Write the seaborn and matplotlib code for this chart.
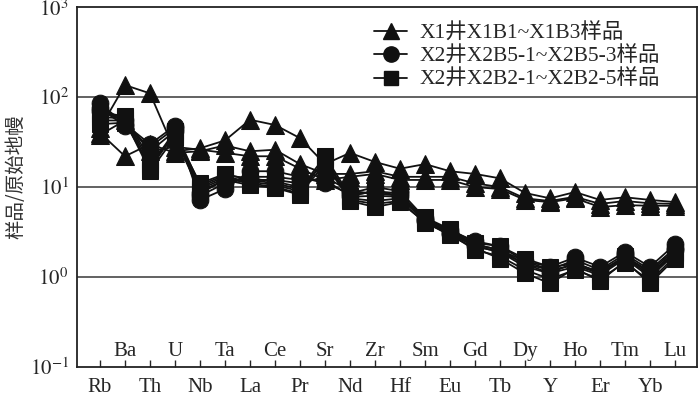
import numpy as np
import pandas as pd
import matplotlib
matplotlib.use("Agg")
import matplotlib.pyplot as plt
from matplotlib.lines import Line2D
import seaborn as sns

elements = ["Rb", "Ba", "Th", "U", "Nb", "Ta", "La", "Ce", "Pr", "Sr", "Nd", "Zr",
            "Hf", "Sm", "Eu", "Gd", "Tb", "Dy", "Y", "Ho", "Er", "Tm", "Yb", "Lu"]

# X1 well, X1B1~X1B3 (triangles)
x1b1 = [45, 136, 110, 25, 27, 33, 56, 49, 35, 18, 24, 19, 16, 18, 15, 14, 12.5, 8.6, 7.5, 8.8, 7.2, 7.7, 7.2, 6.8]
x1b2 = [40, 22, 30, 24, 25, 29, 25, 26, 18, 14, 14, 15, 13, 13, 13, 11, 10, 7.5, 7.0, 7.8, 6.5, 7.0, 6.6, 6.5]
x1b3 = [38, 55, 25, 28, 26, 24, 22, 22, 16, 12, 13, 14, 12, 12, 12, 10, 9.5, 7.2, 6.8, 7.5, 6.0, 6.3, 6.2, 6.2]

# X2 well, X2B5-1~X2B5-3 (circles)
x2b5_1 = [85, 50, 30, 48, 7.2, 9.5, 15, 15, 13, 11, 8.5, 10, 9.0, 4.5, 3.3, 2.5, 2.2, 1.5, 1.3, 1.65, 1.3, 1.9, 1.3, 2.3]
x2b5_2 = [75, 48, 28, 45, 8.0, 11, 13, 13, 12, 12, 8.0, 9.0, 8.5, 4.3, 3.1, 2.3, 2.0, 1.4, 1.2, 1.55, 1.2, 1.8, 1.2, 2.1]
x2b5_3 = [70, 55, 25, 42, 8.5, 12, 12, 12, 11, 13, 9.0, 8.5, 8.0, 4.2, 3.0, 2.2, 1.9, 1.3, 1.1, 1.45, 1.1, 1.7, 1.15, 2.0]

# X2 well, X2B2-1~X2B2-5 (squares)
x2b2_1 = [70, 60, 18, 38, 11, 14, 12, 11, 9.5, 22, 8.0, 9.0, 8.0, 4.6, 3.4, 2.4, 2.2, 1.6, 1.3, 1.4, 1.15, 1.7, 1.1, 1.9]
x2b2_2 = [60, 58, 16, 40, 10, 13, 11.5, 10.5, 9.0, 20, 7.5, 7.0, 7.5, 4.2, 3.2, 2.2, 1.9, 1.4, 1.1, 1.3, 1.05, 1.6, 1.0, 1.8]
x2b2_3 = [55, 55, 15, 36, 9.5, 12.5, 11, 10, 8.5, 18, 7.2, 6.5, 7.0, 4.0, 3.0, 2.0, 1.7, 1.2, 0.95, 1.2, 0.95, 1.45, 0.9, 1.7]
x2b2_4 = [50, 52, 17, 42, 10.5, 13.5, 12.5, 11.5, 10, 19, 7.8, 8.0, 7.8, 4.4, 3.3, 2.3, 2.0, 1.5, 1.2, 1.35, 1.1, 1.65, 1.05, 1.85]
x2b2_5 = [65, 62, 20, 35, 9.0, 12, 10.5, 9.8, 8.2, 21, 7.0, 6.0, 6.8, 4.1, 2.9, 2.1, 1.6, 1.1, 0.85, 1.25, 0.9, 1.5, 0.85, 1.6]

group_labels = ["X1井X1B1~X1B3样品", "X2井X2B5-1~X2B5-3样品", "X2井X2B2-1~X2B2-5样品"]
groups = [
    (group_labels[0], "^", 13, [x1b1, x1b2, x1b3]),
    (group_labels[2], "s", 11.5, [x2b2_1, x2b2_2, x2b2_3, x2b2_4, x2b2_5]),
    (group_labels[1], "o", 12, [x2b5_1, x2b5_2, x2b5_3]),
]

sns.set_style("white")
plt.rcParams["font.family"] = ["Liberation Serif", "Noto Sans CJK SC"]
plt.rcParams["mathtext.fontset"] = "stix"

fig = plt.figure(figsize=(7.0, 3.96), dpi=100)
ax = fig.add_axes([0.11, 0.0732, 0.8857, 0.9088])

xpos = np.arange(len(elements))
for label, mk, ms, series in groups:
    for vals in series:
        df = pd.DataFrame({"x": xpos, "y": vals})
        sns.lineplot(data=df, x="x", y="y", ax=ax, color="#111111", linewidth=1.3,
                     marker=mk, markersize=ms,
                     markeredgecolor="#111111", markerfacecolor="#111111",
                     estimator=None, legend=False, zorder=3)

ax.set_yscale("log")
ax.set_ylim(0.1, 1000)
ax.set_xlim(-0.92, 23.88)
for v in [1, 10, 100]:
    ax.axhline(v, color="#555555", linewidth=1.3, zorder=1)

ax.set_yticks([0.1, 1, 10, 100, 1000])
ax.set_yticklabels([r"$10^{-1}$", r"$10^{0}$", r"$10^{1}$", r"$10^{2}$", r"$10^{3}$"], fontsize=15)
ax.yaxis.set_minor_locator(matplotlib.ticker.NullLocator())
ax.tick_params(axis="y", which="both", length=0, pad=6)

ax.set_xticks(xpos[0::2])
ax.set_xticklabels(elements[0::2], fontsize=15)
ax.set_xticks(xpos[1::2], minor=True)
ax.set_xticklabels(elements[1::2], minor=True, fontsize=15)
ax.tick_params(axis="x", which="major", direction="in", length=5, width=1, pad=8, bottom=True)
ax.tick_params(axis="x", which="minor", direction="in", length=5, width=1, pad=-4, bottom=True)
for t in ax.xaxis.get_minorticklabels():
    t.set_verticalalignment("bottom")

for s in ax.spines.values():
    s.set_color("#222222")
    s.set_linewidth(1.3)

ax.set_xlabel("")
ax.set_ylabel("样品/原始地幔", fontsize=14, family=["Noto Sans CJK SC"], color="#333333")
ax.yaxis.set_label_coords(-0.082, 0.53)

handles = [Line2D([0], [0], color="#111111", lw=1.3, marker=m, markersize=ms, markerfacecolor="#111111")
           for m, ms in [("^", 11), ("o", 11), ("s", 10)]]
ax.legend(handles, group_labels, loc="upper right", bbox_to_anchor=(0.958, 0.985), frameon=False,
          borderpad=0, fontsize=15.5, handlelength=1.5, handletextpad=0.6, labelspacing=0.15)

fig.savefig("out.png", dpi=100)
